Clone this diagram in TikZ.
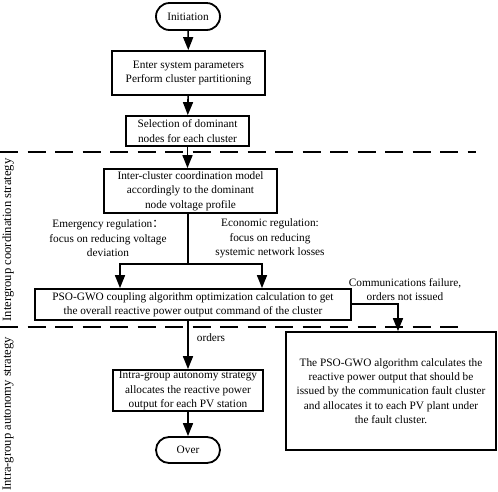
\documentclass[tikz,border=0pt]{standalone}
\usepackage{fontspec}
\setmainfont{Liberation Serif}
\newfontfamily\cjkfont{Noto Sans CJK SC}
\usetikzlibrary{arrows.meta,shapes.misc,calc}
\begin{document}
\begin{tikzpicture}[x=1pt,y=-1pt,
  every node/.style={font=\fontsize{11.3}{14.4}\selectfont, inner sep=1pt, align=center},
  box/.style={draw, line width=1.8pt, rectangle},
  term/.style={draw, line width=1.8pt, rounded rectangle, minimum width=66pt, minimum height=27pt},
  arr/.style={line width=1.6pt, -{Triangle[length=13pt,width=10pt]}},
  ln/.style={line width=1.6pt},
  sep/.style={line width=1.8pt, dash pattern=on 18pt off 9.5pt, dash phase=0pt},
  lbl/.style={inner sep=0pt},
  side/.style={inner sep=0pt, rotate=90, font=\fontsize{12.6}{15}\selectfont}
]
\useasboundingbox (0,0) rectangle (498,491);
\node[term] (init) at (188,16.5) {Initiation};
\node[box, minimum width=153pt, minimum height=44pt] (b1) at (188.5,73) {Enter system parameters\\Perform cluster partitioning};
\node[box, minimum width=123pt, minimum height=30pt] (b2) at (187.5,131) {Selection of dominant\\nodes for each cluster};
\node[box, minimum width=173pt, minimum height=44pt] (b3) at (190.5,191) {Inter-cluster coordination model\\accordingly to the dominant\\node voltage profile};
\node[box, minimum width=316pt, minimum height=31pt] (b4) at (193,304.5) {PSO-GWO coupling algorithm optimization calculation to get\\the overall reactive power output command of the cluster};
\node[box, minimum width=210pt, minimum height=118pt] (b6) at (391,391) {The PSO-GWO algorithm calculates the\\reactive power output that should be\\issued by the communication fault cluster\\and allocates it to each PV plant under\\the fault cluster.};
\node[box, minimum width=150pt, minimum height=41pt] (b5) at (188,390.5) {Intra-group autonomy strategy\\allocates the reactive power\\output for each PV station};
\node[term, minimum height=26pt] (over) at (188,450) {Over};

\node[lbl] (emg) at (108,238.5) {Emergency regulation{\cjkfont ：}\\focus on reducing voltage\\deviation};
\node[lbl] (eco) at (270,238.5) {Economic regulation:\\focus on reducing\\systemic network losses};
\node[lbl] (com) at (405,289.5) {Communications failure,\\orders not issued};
\node[lbl] (ord) at (211,338) {orders};
\node[side] (s1) at (8,240) {Intergroup coordination strategy};
\node[side] (s2) at (8,414) {Intra-group autonomy strategy};

\coordinate (d1a) at (0,152); \coordinate (d1b) at (476,152);
\coordinate (d2a) at (0,327); \coordinate (d2b) at (465,327);
\draw[sep] (d1a) -- (d1b);
\draw[sep] (d2a) -- (d2b);

\draw[arr] (init) -- (b1);
\draw[arr] (b1) -- (b2);
\draw[arr] (b2) -- (b2 |- b3.north);
\coordinate (j) at (188,264);
\coordinate (jl) at (120,264);
\coordinate (jr) at (262,264);
\draw[ln] (b3.south -| j) -- (j);
\draw[ln] ($(jl)+(-0.8,0)$) -- ($(jr)+(0.8,0)$);
\draw[arr] (jl) -- (jl |- b4.north);
\draw[arr] (jr) -- (jr |- b4.north);
\coordinate (cf) at (398,304);
\draw[arr] (b4.east |- cf) -- (cf) -- (cf |- b6.north);
\draw[arr] (b4.south -| b5) -- (b5.north);
\draw[arr] (b5) -- (over);
\end{tikzpicture}
\end{document}
